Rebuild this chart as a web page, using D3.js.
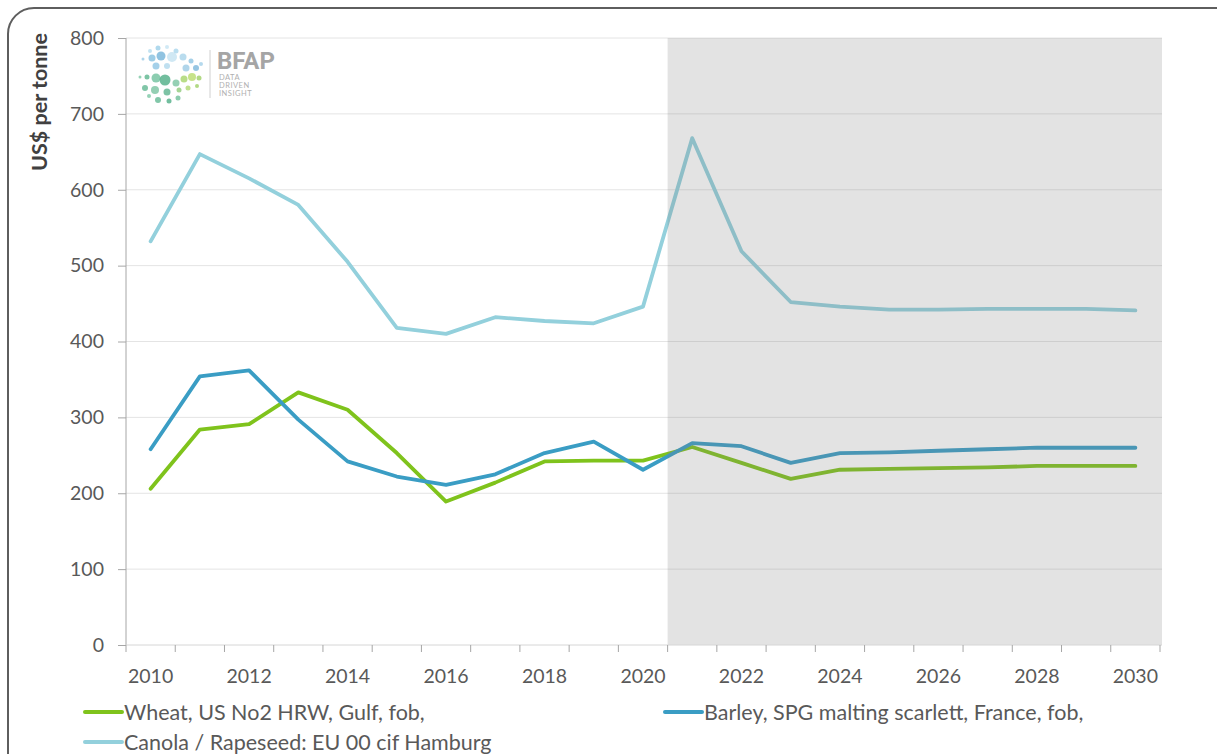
<!DOCTYPE html>
<html>
<head>
<meta charset="utf-8">
<script src="https://cdn.jsdelivr.net/npm/d3@7"></script>
<style>
  body { margin: 0; background: #fff; }
  svg { display: block; font-family: Lato, "Open Sans", sans-serif; }
</style>
</head>
<body>
<div id="chart"></div>
<script>
// years on the x axis
var years = d3.range(2010, 2031);

// US$ per tonne
var wheat = [206, 284, 291, 333, 310, 253, 189, 214, 242, 243, 243, 261, 240, 219, 231, 232, 233, 234, 236, 236, 236];
var barley = [258, 354, 362, 297, 242, 222, 211, 225, 253, 268, 231, 266, 262, 240, 253, 254, 256, 258, 260, 260, 260];
var canola = [532, 647, 615, 580, 505, 418, 410, 432, 427, 424, 446, 668, 519, 452, 446, 442, 442, 443, 443, 443, 441];

var seriesNames = ["Wheat, US No2 HRW, Gulf, fob,", "Barley, SPG malting scarlett, France, fob,", "Canola / Rapeseed: EU 00 cif Hamburg"];
var seriesColours = ["#7fc31c", "#3a9dc4", "#93d0dc"];
var yTicks = [0, 100, 200, 300, 400, 500, 600, 700, 800];
var forecastFrom = 2021;

// logo dots [dx, dy, r, colour]
var logoDots = [
  [13, 7, 2, "#b5dcef"], [21, 4, 2.5, "#9ccfe8"], [30, 3, 2, "#c5e3f2"], [39, 7, 2.5, "#a9d6ec"],
  [6, 15, 1.5, "#9bcbe6"], [15, 14, 3.5, "#86c0e0"], [24, 12, 4.5, "#74b4da"], [35, 13, 5, "#c4e2f1"],
  [46, 13, 3.5, "#a8d3ea"], [54, 17, 2.5, "#8fc4e2"], [59, 24, 3, "#7cb6db"], [19, 22, 3.5, "#8dc4e3"],
  [30, 22, 3, "#b0d8ec"], [49, 24, 3.5, "#9ccbe5"], [64, 20, 2, "#a3cfe8"],
  [3, 33, 1.5, "#7cc7a4"], [10, 33, 2.5, "#5bb58d"], [19, 34, 4.5, "#6fc09c"], [28, 36, 5.5, "#4fae86"],
  [39, 39, 3.5, "#7bc4a1"], [47, 35, 3.5, "#a8d46a"], [55, 33, 4, "#b9dc6e"], [62, 34, 2.5, "#9fd067"],
  [8, 44, 3, "#62b892"], [18, 46, 4, "#79c3a0"], [30, 48, 3.5, "#5cb48f"], [42, 46, 2.5, "#8ecb7a"],
  [51, 44, 2.5, "#b0d873"], [60, 42, 2, "#9fd067"], [21, 56, 3, "#63b994"], [32, 57, 2.5, "#4fae86"],
  [41, 54, 2.5, "#6fbf9a"], [12, 52, 2, "#7cc7a4"]
];

var W = 1217, H = 754;
var plotL = 126, plotR = 1160, plotT = 38, plotB = 645;
var textColour = "#595959";

var svg = d3.select("#chart").append("svg")
  .attr("width", W)
  .attr("height", H);

// rounded frame, runs off the right and bottom
svg.append("rect")
  .attr("x", 8).attr("y", 8)
  .attr("width", 1240).attr("height", 800)
  .attr("rx", 26)
  .attr("fill", "none")
  .attr("stroke", "#5e5e5e")
  .attr("stroke-width", 2);

var x = d3.scaleBand().domain(years).range([plotL, plotR]);
var y = d3.scaleLinear().domain([0, 800]).range([plotB, plotT]);
var cx = d => x(d) + x.bandwidth() / 2;

// gridlines
svg.append("g").selectAll("line")
  .data(yTicks.filter(d => d > 0))
  .enter().append("line")
  .attr("x1", plotL).attr("x2", plotR + 2)
  .attr("y1", d => y(d)).attr("y2", d => y(d))
  .attr("stroke", "#e4e4e4")
  .attr("stroke-width", 1);

// lines
var all = [wheat, barley, canola];
var line = d3.line().x((d, i) => cx(years[i])).y(d => y(d));
svg.append("g").selectAll("path")
  .data([canola, wheat, barley])
  .enter().append("path")
  .attr("d", d => line(d))
  .attr("fill", "none")
  .attr("stroke", d => seriesColours[all.indexOf(d)])
  .attr("stroke-width", 3.8)
  .attr("stroke-linejoin", "round")
  .attr("stroke-linecap", "round");

// forecast shading sits on top of the lines
svg.append("rect")
  .attr("x", x(forecastFrom))
  .attr("y", plotT)
  .attr("width", plotR + 2 - x(forecastFrom))
  .attr("height", plotB - plotT)
  .attr("fill", "#808080")
  .attr("fill-opacity", 0.22);

// y axis
var yAxis = svg.append("g")
  .attr("transform", `translate(${plotL},0)`)
  .call(d3.axisLeft(y).tickValues(yTicks).tickSize(8).tickPadding(14));
yAxis.select(".domain").attr("stroke", "#a6a6a6").attr("d", `M0,${plotT}V${plotB}`);
yAxis.selectAll(".tick line").attr("stroke", "#a6a6a6");
yAxis.selectAll(".tick text")
  .attr("fill", textColour)
  .style("font-size", "19.5px")
  .style("font-family", "Lato");

// x axis: baseline, boundary ticks, labels every 2 years
svg.append("line")
  .attr("x1", plotL).attr("x2", plotR + 2)
  .attr("y1", plotB).attr("y2", plotB)
  .attr("stroke", "#d6d6d6");
var bounds = years.map(d => x(d)).concat([plotR]);
svg.append("g").selectAll("line")
  .data(bounds)
  .enter().append("line")
  .attr("x1", d => d).attr("x2", d => d)
  .attr("y1", plotB).attr("y2", plotB + 7)
  .attr("stroke", "#a6a6a6");
svg.append("g").selectAll("text")
  .data(years.filter(d => d % 2 === 0))
  .enter().append("text")
  .attr("x", d => cx(d))
  .attr("y", plotB + 38)
  .attr("text-anchor", "middle")
  .attr("fill", textColour)
  .style("font-size", "19.5px")
  .text(d => d);

// y title
svg.append("text")
  .attr("transform", "translate(47,102) rotate(-90)")
  .attr("text-anchor", "middle")
  .attr("fill", "#404040")
  .style("font-size", "21.5px")
  .style("font-weight", "bold")
  .text("US$ per tonne");

// legend
var legendPos = [[85, 712], [665, 712], [85, 742]];
var legend = svg.append("g").selectAll("g")
  .data(seriesNames)
  .enter().append("g")
  .attr("transform", (d, i) => `translate(${legendPos[i][0]},${legendPos[i][1]})`);
legend.append("line")
  .attr("x1", 0).attr("x2", 37)
  .attr("stroke", (d, i) => seriesColours[i])
  .attr("stroke-width", 4)
  .attr("stroke-linecap", "round");
legend.append("text")
  .attr("x", 39)
  .attr("y", 7.5)
  .attr("fill", textColour)
  .style("font-size", "21.5px")
  .text(d => d);

// BFAP logo
var logo = svg.append("g").attr("transform", "translate(137,44)");
logo.selectAll("circle")
  .data(logoDots)
  .enter().append("circle")
  .attr("cx", d => d[0]).attr("cy", d => d[1])
  .attr("r", d => d[2])
  .attr("fill", d => d[3])
  .attr("opacity", 0.8);
svg.append("line")
  .attr("x1", 210).attr("x2", 210)
  .attr("y1", 50).attr("y2", 98)
  .attr("stroke", "#d0d0d0");
svg.append("text")
  .attr("x", 217).attr("y", 69)
  .attr("fill", "#a5a5a5")
  .style("font-size", "24px")
  .style("font-weight", "bold")
  .style("font-family", "Roboto, Lato, sans-serif")
  .text("BFAP");
svg.append("g").selectAll("text")
  .data(["DATA", "DRIVEN", "INSIGHT"])
  .enter().append("text")
  .attr("x", 219)
  .attr("y", (d, i) => 80 + i * 8)
  .attr("fill", "#b0b0b0")
  .style("font-size", "7.5px")
  .style("letter-spacing", "0.5px")
  .text(d => d);
</script>
</body>
</html>
